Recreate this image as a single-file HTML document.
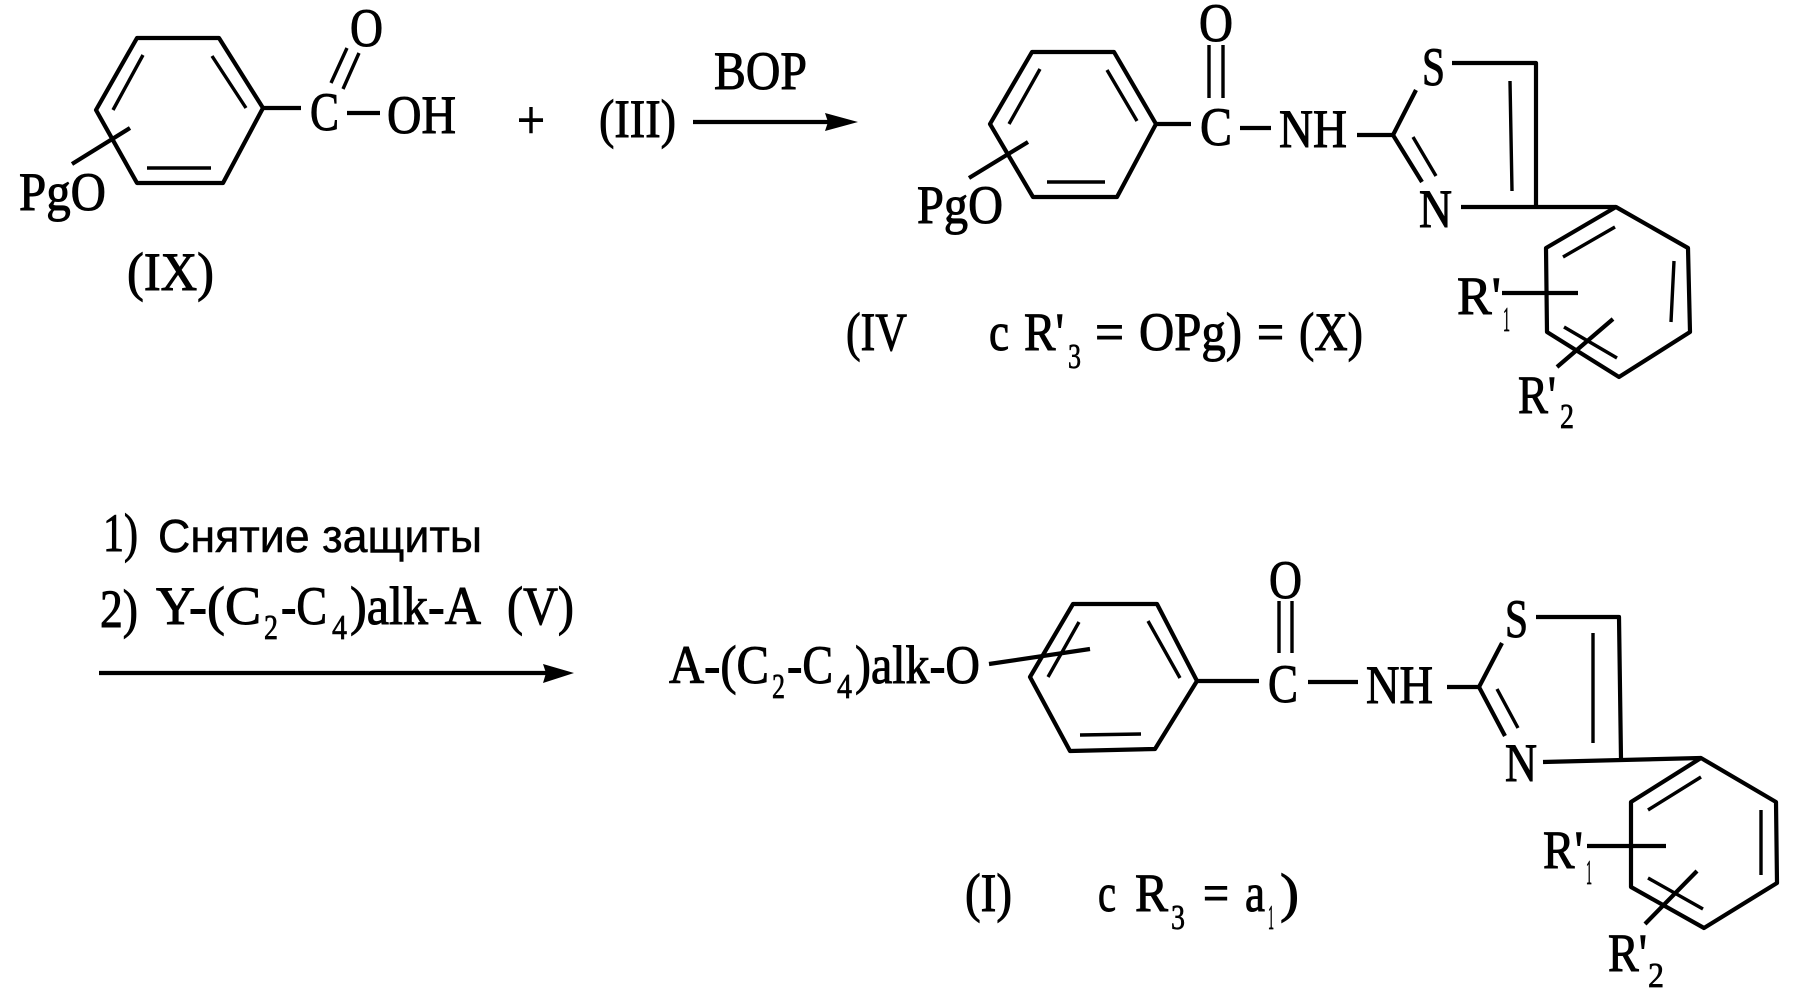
<!DOCTYPE html>
<html>
<head>
<meta charset="utf-8">
<style>
html,body{margin:0;padding:0;background:#fff;width:1804px;height:1004px;overflow:hidden}
svg{display:block}
text{font-family:"Liberation Serif",serif;font-size:54px;fill:#000;stroke:#000;stroke-width:1px;transform:translateY(1px)}
text.s{font-size:35px;stroke-width:.7px}
text.r{font-family:"Liberation Sans",sans-serif;font-size:46px;stroke-width:.5px}
path{fill:none;stroke:#000;stroke-width:4.2;stroke-linejoin:round;stroke-linecap:butt}
path.i{stroke-width:3.4}
path.a{fill:#000;stroke:none}
</style>
</head>
<body>
<svg width="1804" height="1004" viewBox="0 0 1804 1004" xmlns="http://www.w3.org/2000/svg">
<rect width="1804" height="1004" fill="#fff"/>

<!-- IX -->
<path d="M137 38L219 38L263 108L223 183L137 183L96 110Z"/>
<path class="i" d="M143 55L113 110M212 56L246 108M147 168L211 168"/>
<path d="M72 164L130 128M263 108L301 108M347 113L380 113"/>
<path class="i" d="M347 48L331 83M359 53L343 89"/>
<text x="310" y="129" textLength="29" lengthAdjust="spacingAndGlyphs">C</text>
<text x="350" y="45" textLength="33" lengthAdjust="spacingAndGlyphs">O</text>
<text x="387" y="132" textLength="69" lengthAdjust="spacingAndGlyphs">OH</text>
<text x="19" y="209" textLength="87" lengthAdjust="spacingAndGlyphs">PgO</text>
<text x="127" y="289" textLength="87" lengthAdjust="spacingAndGlyphs">(IX)</text>
<text x="517" y="137" textLength="28" lengthAdjust="spacingAndGlyphs">+</text>
<text x="599" y="136" textLength="77" lengthAdjust="spacingAndGlyphs">(III)</text>
<text x="714" y="88" textLength="93" lengthAdjust="spacingAndGlyphs">BOP</text>
<path d="M693 122L830 122"/>
<path class="a" d="M858 122L825 113L828 122L825 131Z"/>

<!-- IV / X -->
<path d="M1032 52L1114 52L1156 124L1117 197L1033 197L990 124Z"/>
<path class="i" d="M1040 69L1009 124M1107 70L1137 121M1047 182L1105 182"/>
<path d="M969 178L1028 142M1156 124L1191 124M1240 128L1271 128M1357 135L1393 135"/>
<path class="i" d="M1209 45L1209 98M1223 45L1223 98"/>
<text x="917" y="222" textLength="86" lengthAdjust="spacingAndGlyphs">PgO</text>
<text x="1200" y="144" textLength="32" lengthAdjust="spacingAndGlyphs">C</text>
<text x="1199" y="40" textLength="34" lengthAdjust="spacingAndGlyphs">O</text>
<text x="1279" y="146" textLength="68" lengthAdjust="spacingAndGlyphs">NH</text>
<text x="1422" y="84" textLength="23" lengthAdjust="spacingAndGlyphs">S</text>
<text x="1419" y="226" textLength="33" lengthAdjust="spacingAndGlyphs">N</text>
<path d="M1416 90L1393 135L1422 182M1452 63L1536 63L1536 207M1461 207L1616 207"/>
<path class="i" d="M1510 81L1512 191M1413 137L1436 176"/>
<path d="M1616 207L1688 248L1690 332L1619 377L1547 332L1546 248Z"/>
<path class="i" d="M1615 227L1563 257M1674 261L1671 322M1564 327L1617 358"/>
<path d="M1502 293L1578 293M1557 367L1613 319"/>
<text x="1457" y="313" textLength="44" lengthAdjust="spacingAndGlyphs">R'</text>
<text class="s" x="1503" y="330" textLength="7" lengthAdjust="spacingAndGlyphs">1</text>
<text x="1518" y="412" textLength="38" lengthAdjust="spacingAndGlyphs">R'</text>
<text class="s" x="1560" y="427" textLength="14" lengthAdjust="spacingAndGlyphs">2</text>
<text x="846" y="349" textLength="61" lengthAdjust="spacingAndGlyphs">(IV</text>
<text x="989" y="349" textLength="20" lengthAdjust="spacingAndGlyphs">c</text>
<text x="1024" y="349" textLength="40" lengthAdjust="spacingAndGlyphs">R'</text>
<text class="s" x="1068" y="367" textLength="13" lengthAdjust="spacingAndGlyphs">3</text>
<text x="1095" y="349" textLength="29" lengthAdjust="spacingAndGlyphs">=</text>
<text x="1139" y="349" textLength="103" lengthAdjust="spacingAndGlyphs">OPg)</text>
<text x="1257" y="349" textLength="27" lengthAdjust="spacingAndGlyphs">=</text>
<text x="1299" y="349" textLength="64" lengthAdjust="spacingAndGlyphs">(X)</text>

<!-- reagents -->
<text x="103" y="550" textLength="35" lengthAdjust="spacingAndGlyphs">1)</text>
<text class="r" x="158" y="551" textLength="324" lengthAdjust="spacingAndGlyphs">Снятие защиты</text>
<text x="100" y="626" textLength="38" lengthAdjust="spacingAndGlyphs">2)</text>
<text x="156" y="623" textLength="105" lengthAdjust="spacingAndGlyphs">Y-(C</text>
<text class="s" x="264" y="638" textLength="14" lengthAdjust="spacingAndGlyphs">2</text>
<text x="281" y="623" textLength="46" lengthAdjust="spacingAndGlyphs">-C</text>
<text class="s" x="332" y="638" textLength="15" lengthAdjust="spacingAndGlyphs">4</text>
<text x="350" y="623" textLength="131" lengthAdjust="spacingAndGlyphs">)alk-A</text>
<text x="507" y="623" textLength="67" lengthAdjust="spacingAndGlyphs">(V)</text>
<path d="M99 673L548 673"/>
<path class="a" d="M574 673L543 664L546 673L543 683Z"/>

<!-- I -->
<text x="669" y="682" textLength="100" lengthAdjust="spacingAndGlyphs">A-(C</text>
<text class="s" x="772" y="697" textLength="13" lengthAdjust="spacingAndGlyphs">2</text>
<text x="787" y="682" textLength="46" lengthAdjust="spacingAndGlyphs">-C</text>
<text class="s" x="837" y="697" textLength="15" lengthAdjust="spacingAndGlyphs">4</text>
<text x="855" y="682" textLength="125" lengthAdjust="spacingAndGlyphs">)alk-O</text>
<path d="M1073 604L1157 604L1197 681L1155 749L1070 751L1030 677Z"/>
<path class="i" d="M1079 622L1048 677M1148 621L1180 678M1080 735L1141 734"/>
<path d="M989 664L1090 649M1197 681L1259 681M1308 682L1358 682M1447 687L1479 687"/>
<path class="i" d="M1279 601L1279 653M1292 601L1292 653"/>
<text x="1268" y="701" textLength="30" lengthAdjust="spacingAndGlyphs">C</text>
<text x="1269" y="597" textLength="33" lengthAdjust="spacingAndGlyphs">O</text>
<text x="1366" y="702" textLength="67" lengthAdjust="spacingAndGlyphs">NH</text>
<text x="1505" y="636" textLength="23" lengthAdjust="spacingAndGlyphs">S</text>
<text x="1505" y="780" textLength="32" lengthAdjust="spacingAndGlyphs">N</text>
<path d="M1502 643L1479 687L1505 736M1536 617L1619 617L1621 759M1543 762L1701 758"/>
<path class="i" d="M1593 633L1593 743M1497 689L1518 728"/>
<path d="M1701 758L1776 802L1777 883L1704 928L1631 887L1631 802Z"/>
<path class="i" d="M1701 777L1648 810M1761 810L1761 875M1648 878L1703 909"/>
<path d="M1587 846L1666 846M1645 924L1697 871"/>
<text x="1543" y="867" textLength="40" lengthAdjust="spacingAndGlyphs">R'</text>
<text class="s" x="1586" y="883" textLength="6" lengthAdjust="spacingAndGlyphs">1</text>
<text x="1608" y="970" textLength="39" lengthAdjust="spacingAndGlyphs">R'</text>
<text class="s" x="1648" y="986" textLength="16" lengthAdjust="spacingAndGlyphs">2</text>
<text x="965" y="910" textLength="47" lengthAdjust="spacingAndGlyphs">(I)</text>
<text x="1098" y="910" textLength="18" lengthAdjust="spacingAndGlyphs">c</text>
<text x="1135" y="910" textLength="33" lengthAdjust="spacingAndGlyphs">R</text>
<text class="s" x="1171" y="928" textLength="14" lengthAdjust="spacingAndGlyphs">3</text>
<text x="1203" y="910" textLength="26" lengthAdjust="spacingAndGlyphs">=</text>
<text x="1245" y="910" textLength="20" lengthAdjust="spacingAndGlyphs">a</text>
<text class="s" x="1268" y="928" textLength="6" lengthAdjust="spacingAndGlyphs">1</text>
<text x="1280" y="910" textLength="19" lengthAdjust="spacingAndGlyphs">)</text>
</svg>
</body>
</html>
